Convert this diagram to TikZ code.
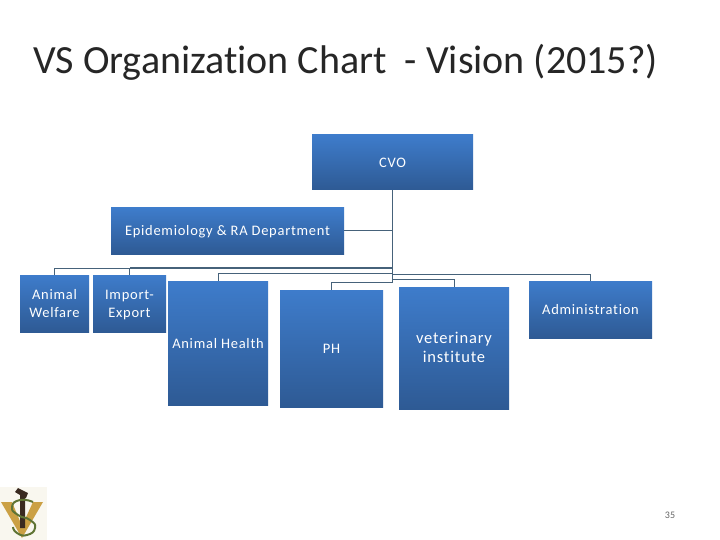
\documentclass[tikz,border=0pt]{standalone}
\usepackage{fontspec}
\setmainfont[Ligatures=CommonOff]{Carlito}
\newfontfamily\boxfont[LetterSpace=5,Ligatures=CommonOff]{Carlito}
\usepackage{tikz}
\usetikzlibrary{calc}
\definecolor{boxtop}{HTML}{3E7CCB}
\definecolor{boxbottom}{HTML}{2E5A94}
\definecolor{linkcolor}{HTML}{46627A}
\definecolor{logogold}{HTML}{CBA044}
\definecolor{logodark}{HTML}{3A2A20}
\definecolor{logogreen}{HTML}{5F7434}
\definecolor{logoback}{HTML}{F9F7EF}
\newcommand{\boxline}{\rule[-4pt]{0pt}{18pt}}
\tikzset{
	unit/.style={rectangle, inner sep=0pt, align=center, text=white, font=\boxfont\fontsize{14.5}{18}\selectfont, top color=boxtop, bottom color=boxbottom, draw=none},
	link/.style={draw=linkcolor, line width=1pt},
}
\begin{document}
\begin{tikzpicture}[x=1pt,y=-1pt]
			\useasboundingbox (0,0) rectangle (720,540);
			\fill[white] (0,0) rectangle (720,540);
			
			%title
			\node[anchor=base west, inner sep=0pt, font=\fontsize{40}{44}\selectfont, text=black!85] (title) at (33,74) {VS Organization Chart\ \ - Vision (2015?)};
			
			%boxes
			\node[unit, minimum width=161pt, minimum height=55pt] (cvo) at (392.5,162.5) {CVO\boxline};
			\node[unit, minimum width=233pt, minimum height=46pt] (epi) at (227.5,231) {Epidemiology \& RA Department\boxline};
			\node[unit, minimum width=69pt, minimum height=57pt] (welfare) at (54.5,303.5) {Animal\boxline\\Welfare\boxline};
			\node[unit, minimum width=73pt, minimum height=57pt] (import) at (129.5,303.5) {Import-\boxline\\Export\boxline};
			\node[unit, minimum width=100pt, minimum height=124pt] (health) at (218,343) {Animal Health\boxline};
			\node[unit, minimum width=103pt, minimum height=117pt] (ph) at (331.5,348.5) {PH\boxline};
			\node[unit, minimum width=110pt, minimum height=122pt, font=\boxfont\fontsize{16.5}{18.5}\selectfont] (vet) at (454,348) {veterinary\boxline\\institute\boxline};
			\node[unit, minimum width=123pt, minimum height=57pt] (admin) at (590.5,309.5) {Administration\boxline};
			
			%levels of the lines
			\coordinate (busA) at (392.5,268);
			\coordinate (busB) at (392.5,273);
			\coordinate (busC) at (392.5,282);
			\coordinate (busD) at (392.5,279);
			\coordinate (busE) at (392.5,274);
			
			%lines
			\draw[link] (cvo.south) -- (busC);
			\draw[link] (epi.east) -- (epi.east -| cvo.south);
			\draw[link, line width=1.8pt] (busA) -- (busA -| import.north);
			\draw[link] (busA -| import.north) -- (import.north);
			\draw[link] (busA) -| (welfare.north);
			\draw[link] (busB) -| (health.north);
			\draw[link] (busC) -| (ph.north);
			\draw[link] (busD) -| (vet.north);
			\draw[link] (busE) -| (admin.north);
			
			%page number
			\node[font=\fontsize{10}{12}\selectfont, text=black!60] (page) at (670,515) {35};
			
			%logo
			\fill[logoback] (0,487) rectangle (47,540);
			\fill[logogold] (1,502) -- (12,502) -- (22,526) -- (33,502) -- (43,502) -- (22,538) -- cycle;
			\fill[logodark] (15,492) -- (18,488) -- (28,493) -- (26,498) -- (25,498) -- (25,528) -- (20,528) -- (20,495) -- cycle;
			\draw[draw=logogreen, line width=2pt] plot [smooth, tension=1] coordinates {(33,502)(20,500)(12,507)(18,515)(30,520)(35,528)(27,535)(17,533)(13,527)};
\end{tikzpicture}
\end{document}
